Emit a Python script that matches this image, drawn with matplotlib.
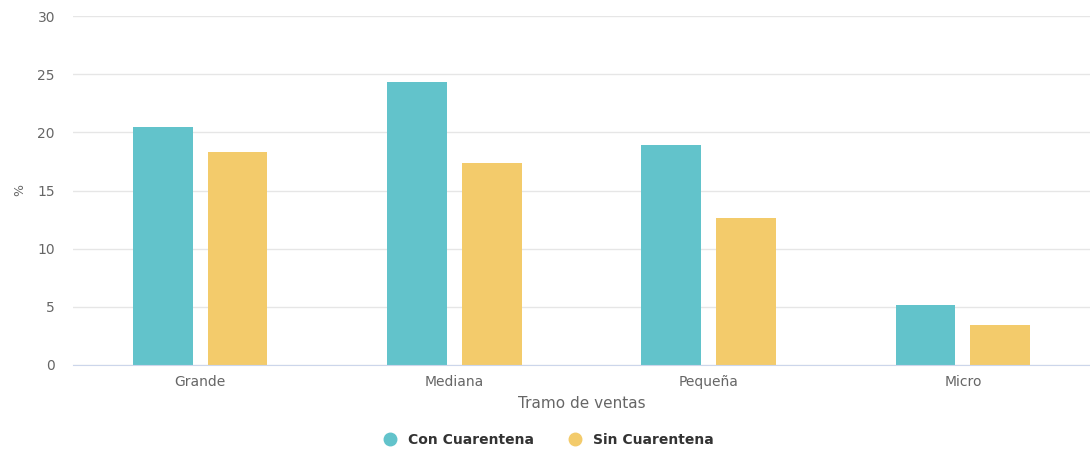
import matplotlib
matplotlib.use("Agg")
import numpy as np
from matplotlib import pyplot as plt
from matplotlib.lines import Line2D

# data
categories = ["Grande", "Mediana", "Pequeña", "Micro"]
con_cuarentena = [20.5, 24.3, 18.9, 5.2]
sin_cuarentena = [18.3, 17.4, 12.6, 3.4]
series_names = ["Con Cuarentena", "Sin Cuarentena"]
y_ticks = [0, 5, 10, 15, 20, 25, 30]

teal = "#62c3cb"
yellow = "#f3cb6b"
textgrey = "#666666"

plt.rcParams['font.family'] = ['DejaVu Sans']

fig = plt.figure(figsize=(10.9, 4.51), dpi=100)
ax = fig.add_axes([73/1090, (451-365)/451, 1 - 73/1090, (365-16)/451])

x = np.arange(len(categories))
w = 0.235
off = 0.147
ax.bar(x - off, con_cuarentena, w, color=teal, zorder=3)
ax.bar(x + off, sin_cuarentena, w, color=yellow, zorder=3)

ax.set_xlim(-0.5, len(categories) - 0.5)
ax.set_ylim(0, 30)
ax.set_yticks(y_ticks)
ax.set_xticks(x)
ax.set_xticklabels(categories)
ax.tick_params(axis='both', length=0, colors=textgrey, labelsize=10)
ax.tick_params(axis='y', pad=13)
ax.tick_params(axis='x', pad=7)

for s in ['top', 'right', 'left']:
    ax.spines[s].set_visible(False)
ax.spines['bottom'].set_color('#ccd6eb')
ax.spines['bottom'].set_zorder(4)
ax.grid(axis='y', color='#e6e6e6', linewidth=1, zorder=0)
ax.set_axisbelow(True)

ax.set_ylabel("%", color=textgrey, fontsize=9, labelpad=8)
ax.set_xlabel("Tramo de ventas", color=textgrey, fontsize=11, labelpad=5)

handles = [Line2D([0], [0], marker='o', linestyle='', markersize=9, color=teal),
           Line2D([0], [0], marker='o', linestyle='', markersize=9, color=yellow)]
leg = fig.legend(handles, series_names, loc='center', bbox_to_anchor=(0.5, 1 - 440/451),
                 ncol=2, frameon=False, handletextpad=0.3, columnspacing=2.0,
                 prop={'weight': 'bold', 'size': 10})
for t in leg.get_texts():
    t.set_color('#333333')

fig.savefig("out.png", dpi=100)
